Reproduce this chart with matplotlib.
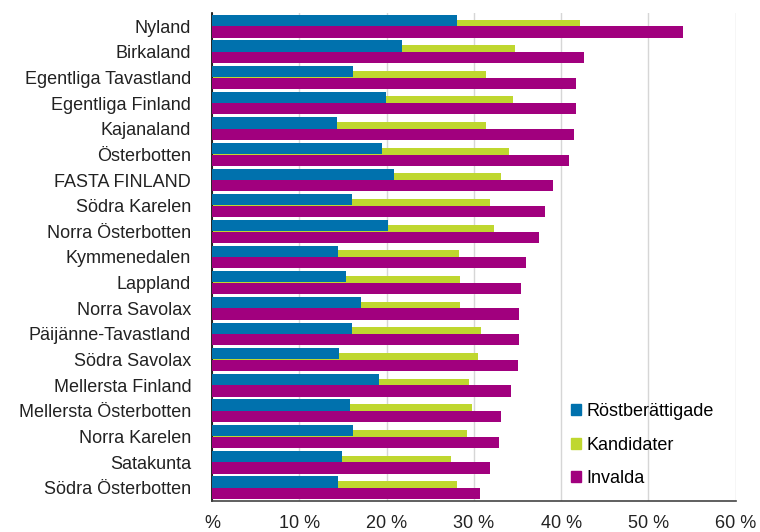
import numpy as np
import matplotlib
matplotlib.use('Agg')
import matplotlib.pyplot as plt
from matplotlib.patches import Patch

plt.rcParams['font.family'] = ['Liberation Sans', 'DejaVu Sans']

regions = ['Nyland', 'Birkaland', 'Egentliga Tavastland', 'Egentliga Finland', 'Kajanaland',
           'Österbotten', 'FASTA FINLAND', 'Södra Karelen', 'Norra Österbotten', 'Kymmenedalen',
           'Lappland', 'Norra Savolax', 'Päijänne-Tavastland', 'Södra Savolax', 'Mellersta Finland',
           'Mellersta Österbotten', 'Norra Karelen', 'Satakunta', 'Södra Österbotten']

rostberattigade = [28.1, 21.8, 16.2, 19.9, 14.3, 19.5, 20.9, 16.0, 20.2, 14.4,
                   15.4, 17.1, 16.0, 14.5, 19.1, 15.8, 16.2, 14.9, 14.4]
kandidater = [42.2, 34.7, 31.4, 34.5, 31.4, 34.0, 33.1, 31.8, 32.3, 28.3,
              28.4, 28.4, 30.8, 30.5, 29.4, 29.8, 29.2, 27.4, 28.1]
invalda = [54.0, 42.6, 41.7, 41.7, 41.5, 40.9, 39.1, 38.2, 37.5, 36.0,
           35.4, 35.2, 35.2, 35.1, 34.2, 33.1, 32.9, 31.8, 30.7]

series_names = ['Röstberättigade', 'Kandidater', 'Invalda']
tick_vals = [0, 10, 20, 30, 40, 50, 60]
tick_labels = ['%', '10 %', '20 %', '30 %', '40 %', '50 %', '60 %']

c_blue = '#0071AD'
c_green = '#BFD72F'
c_purple = '#A1007E'

fig = plt.figure(figsize=(7.6, 5.32), dpi=100)
ax = fig.add_axes([0.279, 0.059, 0.689, 0.916])

y = np.arange(len(regions))
h = 0.436
# green sits under the other two, like the overlapping bars in the original
ax.barh(y - 0.04, kandidater, height=h, color=c_green, zorder=2)
ax.barh(y - 0.226, rostberattigade, height=h, color=c_blue, zorder=3)
ax.barh(y + 0.226, invalda, height=h, color=c_purple, zorder=3)

ax.set_ylim(len(regions) - 0.5, -0.5)
ax.set_yticks(y)
ax.set_yticklabels(regions, fontsize=13, color='#222222')
ax.tick_params(axis='y', length=0, pad=15)

ax.set_xlim(0, 60)
ax.set_xticks(tick_vals)
ax.set_xticklabels(tick_labels, fontsize=13, color='#222222')
ax.tick_params(axis='x', length=0, pad=10.5)
ax.grid(axis='x', color='#d6d6d6', lw=1, zorder=0)
ax.set_axisbelow(True)

for s in ['top', 'right']:
    ax.spines[s].set_visible(False)
ax.spines['left'].set_color('black')
ax.spines['left'].set_linewidth(1.2)
ax.spines['bottom'].set_color('#444444')
ax.spines['bottom'].set_linewidth(1.2)

handles = [Patch(color=c_blue), Patch(color=c_green), Patch(color=c_purple)]
fig.legend(handles, series_names, loc='center left', bbox_to_anchor=(0.751, 0.1635),
           frameon=False, fontsize=13, handlelength=0.55, handleheight=0.55,
           handletextpad=0.3, labelspacing=0.9, borderpad=0, borderaxespad=0)

fig.savefig('out.png', dpi=100)
